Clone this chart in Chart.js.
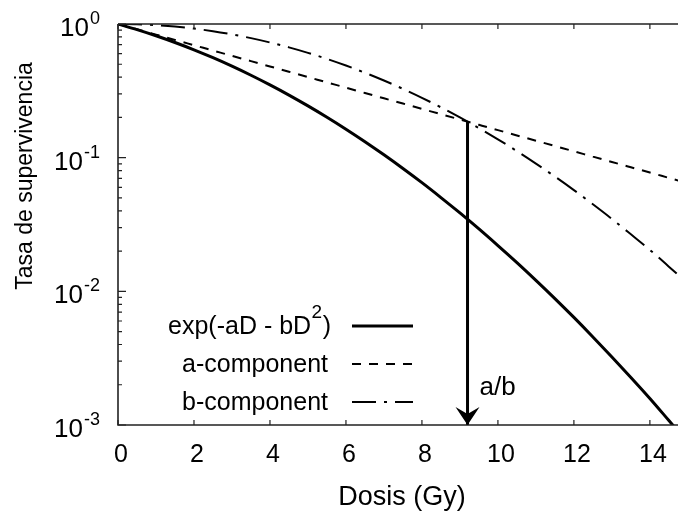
<!DOCTYPE html>
<html><head><meta charset="utf-8">
<script src="https://cdn.jsdelivr.net/npm/chart.js@4"></script>
<style>html,body{margin:0;padding:0;background:#fff}canvas{display:block}</style>
</head><body>
<canvas id="c" width="678" height="512"></canvas>
<script>
// ---- data ----
const doses = [0,0.5,1,1.5,2,2.5,3,3.5,4,4.5,5,5.5,6,6.5,7,7.5,8,8.5,9,9.5,10,10.5,11,11.5,12,12.5,13,13.5,14,14.5,15];
const survivalLQ = [1,0.9081,0.8165,0.7269,0.6408,0.5592,0.4833,0.4134,0.3502,0.2938,0.2439,0.2006,0.1633,0.1316,0.1050,0.0830,0.0650,0.0503,0.0386,0.0293,0.0220,0.01641,0.01209,0.00883,0.00638,0.00456,0.00323,0.00227,0.00158,0.00108,0.000737];
const alphaComponent = [1,0.9127,0.8329,0.7602,0.6938,0.6332,0.5779,0.5274,0.4813,0.4393,0.4009,0.3659,0.3339,0.3048,0.2781,0.2539,0.2317,0.2115,0.1930,0.1761,0.1607,0.1467,0.1339,0.1222,0.1115,0.1018,0.0929,0.0848,0.0774,0.0706,0.0644];
const betaComponent = [1,0.9950,0.9803,0.9563,0.9236,0.8832,0.8363,0.7840,0.7277,0.6687,0.6085,0.5482,0.4890,0.4319,0.3777,0.3270,0.2804,0.2380,0.2000,0.1664,0.1371,0.1119,0.0903,0.0722,0.0572,0.0448,0.0348,0.0267,0.0204,0.0153,0.0114];
const seriesLabels = ['exp(-aD - bD', 'a-component', 'b-component'];
const xTicks = [0,2,4,6,8,10,12,14];
const yTickExponents = [0,-1,-2,-3];
const crossoverDose = 9.2;
const crossoverValue = 0.186;
const arrowBaseValue = 0.001;
const xTitle = 'Dosis (Gy)';
const yTitle = 'Tasa de supervivencia';
const ratioLabel = 'a/b';

const FONT = "'Liberation Sans', Arial, Helvetica, sans-serif";
function pts(ys){ return doses.map((d,i)=>({x:d,y:ys[i]})); }

const decor = {
  id:'decor',
  afterDraw(chart){
    const ctx = chart.ctx, xs = chart.scales.x, ys = chart.scales.y, a = chart.chartArea;
    ctx.save();
    ctx.setLineDash([]);
    // axes frame (left, bottom, top)
    ctx.strokeStyle = '#222'; ctx.lineWidth = 1.6;
    ctx.beginPath();
    ctx.moveTo(a.left, a.top); ctx.lineTo(a.right, a.top);
    ctx.moveTo(a.left, a.top); ctx.lineTo(a.left, a.bottom); ctx.lineTo(a.right, a.bottom);
    ctx.stroke();
    // tick marks (inward)
    ctx.lineWidth = 1.2;
    ctx.beginPath();
    xTicks.forEach(v => {
      const px = xs.getPixelForValue(v);
      ctx.moveTo(px, a.bottom); ctx.lineTo(px, a.bottom - 5);
      ctx.moveTo(px, a.top); ctx.lineTo(px, a.top + 5);
    });
    yTickExponents.forEach(e => {
      const base = Math.pow(10, e);
      const py = ys.getPixelForValue(base);
      ctx.moveTo(a.left, py); ctx.lineTo(a.left + 8, py);
      if (e < 0) for (let m = 2; m <= 9; m++) {
        const p = ys.getPixelForValue(m * base);
        ctx.moveTo(a.left, p); ctx.lineTo(a.left + 4, p);
      }
    });
    ctx.stroke();

    ctx.fillStyle = '#000';
    // y tick labels with superscript exponents
    yTickExponents.forEach(e => {
      const py = ys.getPixelForValue(Math.pow(10, e));
      const sup = String(e);
      ctx.font = '18px ' + FONT;
      const sw = ctx.measureText(sup).width;
      ctx.textAlign = 'right'; ctx.textBaseline = 'alphabetic';
      ctx.fillText(sup, 100, py + 0);
      ctx.font = '26px ' + FONT;
      ctx.fillText('10', 100 - sw - 1, py + 12);
    });

    // axis titles
    ctx.font = '27px ' + FONT;
    ctx.textAlign = 'center'; ctx.textBaseline = 'alphabetic';
    ctx.fillText(xTitle, 402, 505);
    ctx.save();
    ctx.translate(26, 176); ctx.rotate(-Math.PI / 2);
    ctx.font = '23px ' + FONT;
    ctx.textBaseline = 'middle';
    ctx.fillText(yTitle, 0, 0);
    ctx.restore();

    // legend inside plot
    const rows = [326, 364, 402];
    [0,1,2].forEach(i => {
      const ds = chart.data.datasets[i];
      const ly = rows[i];
      ctx.font = '25px ' + FONT;
      ctx.textAlign = 'left'; ctx.textBaseline = 'alphabetic';
      if (i === 0) {
        const w1 = ctx.measureText(seriesLabels[0]).width;
        ctx.font = '19px ' + FONT;
        const w2 = ctx.measureText('2').width;
        ctx.font = '25px ' + FONT;
        const w3 = ctx.measureText(')').width;
        const x0 = 331 - (w1 + w2 + w3 + 1);
        ctx.fillText(seriesLabels[0], x0, ly + 8);
        ctx.font = '19px ' + FONT;
        ctx.fillText('2', x0 + w1 + 0.5, ly - 8);
        ctx.font = '25px ' + FONT;
        ctx.fillText(')', x0 + w1 + w2 + 1, ly + 8);
      } else {
        ctx.textAlign = 'right';
        ctx.fillText(seriesLabels[i], 328, ly + 8);
      }
      ctx.strokeStyle = ds.borderColor; ctx.lineWidth = ds.borderWidth;
      ctx.setLineDash(ds.borderDash || []);
      ctx.beginPath(); ctx.moveTo(352, ly); ctx.lineTo(413, ly); ctx.stroke();
      ctx.setLineDash([]);
    });

    // arrow head at the crossover dose
    const ax = xs.getPixelForValue(crossoverDose);
    const ay = ys.getPixelForValue(arrowBaseValue);
    ctx.fillStyle = '#000';
    ctx.beginPath();
    ctx.moveTo(ax, ay);
    ctx.lineTo(ax - 12, ay - 18);
    ctx.lineTo(ax, ay - 11);
    ctx.lineTo(ax + 12, ay - 18);
    ctx.closePath();
    ctx.fill();
    ctx.font = '26px ' + FONT;
    ctx.textAlign = 'left'; ctx.textBaseline = 'alphabetic';
    ctx.fillText(ratioLabel, ax + 12, 395);
    ctx.restore();
  }
};

new Chart(document.getElementById('c'), {
  type: 'line',
  data: {
    datasets: [
      { label: 'exp(-aD - bD²)', data: pts(survivalLQ), borderColor: '#000', borderWidth: 3, pointRadius: 0, cubicInterpolationMode: 'monotone', fill: false },
      { label: 'a-component', data: pts(alphaComponent), borderColor: '#000', borderWidth: 2, borderDash: [9, 8], pointRadius: 0, cubicInterpolationMode: 'monotone', fill: false },
      { label: 'b-component', data: pts(betaComponent), borderColor: '#000', borderWidth: 2, borderDash: [24, 8, 3, 8], pointRadius: 0, cubicInterpolationMode: 'monotone', fill: false },
      { label: 'a/b', data: [{x: crossoverDose, y: crossoverValue}, {x: crossoverDose, y: arrowBaseValue}], borderColor: '#000', borderWidth: 3, pointRadius: 0, fill: false }
    ]
  },
  options: {
    responsive: false,
    animation: false,
    devicePixelRatio: 1,
    layout: { padding: { top: 24, left: 0, right: 0, bottom: 0 } },
    plugins: { legend: { display: false }, tooltip: { enabled: false }, title: { display: false } },
    scales: {
      x: {
        type: 'linear', min: 0, max: 14.74,
        grid: { display: false, drawTicks: false },
        border: { display: false },
        ticks: { stepSize: 2, includeBounds: false, padding: 15, labelOffset: 3, color: '#000', font: { family: FONT, size: 25 }, maxRotation: 0 },
        afterFit(s) { s.height = 87; s.paddingLeft = 0; s.paddingRight = 0; }
      },
      y: {
        type: 'logarithmic', min: 0.001, max: 1,
        grid: { display: false, drawTicks: false },
        border: { display: false },
        ticks: { display: false },
        afterFit(s) { s.width = 118; s.paddingTop = 0; s.paddingBottom = 0; }
      }
    }
  },
  plugins: [decor]
});
</script>
</body></html>
